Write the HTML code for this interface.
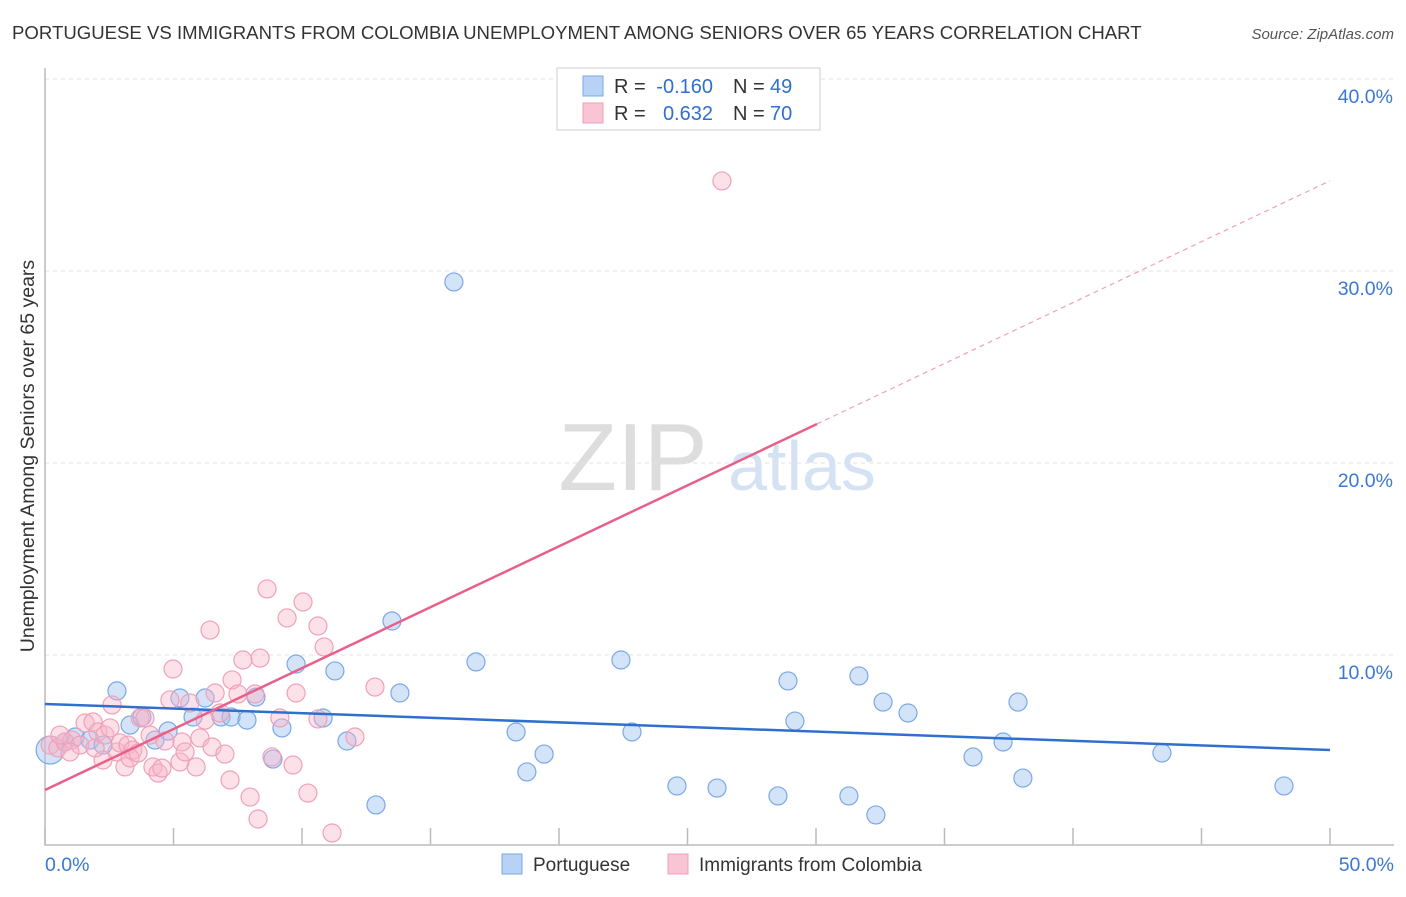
<!DOCTYPE html>
<html><head><meta charset="utf-8"><style>
body{margin:0;background:#fff;font-family:"Liberation Sans",sans-serif}
svg text{font-family:"Liberation Sans",sans-serif}
</style></head><body>
<svg id="c" width="1406" height="892">
<text x="12" y="39" font-size="18.6" fill="#333">PORTUGUESE VS IMMIGRANTS FROM COLOMBIA UNEMPLOYMENT AMONG SENIORS OVER 65 YEARS CORRELATION CHART</text>
<text x="1394" y="39" font-size="15" fill="#555" font-style="italic" text-anchor="end">Source: ZipAtlas.com</text>
<text x="633" y="490" font-size="96" fill="#ddd" font-family="Liberation Serif" text-anchor="middle">ZIP</text>
<text x="802" y="490" font-size="70" fill="#d4e2f4" text-anchor="middle">atlas</text>
<g id="grid"></g><g id="pts"></g><g id="lines"></g>
<text transform="translate(34,456) rotate(-90)" font-size="19.5" fill="#333" text-anchor="middle">Unemployment Among Seniors over 65 years</text>
<g>
<rect x="557" y="68" width="263" height="62" fill="#fff" stroke="#ccc"/>
<rect x="583" y="76" width="20" height="20" fill="#b8d2f5" stroke="#7aa8e8"/>
<rect x="583" y="103" width="20" height="20" fill="#f9c4d3" stroke="#f0a0b8"/>
<text x="614" y="93" font-size="20" fill="#333">R =</text>
<text x="713" y="93" font-size="20" fill="#2f6fd0" text-anchor="end">-0.160</text>
<text x="733" y="93" font-size="20" fill="#333">N =</text>
<text x="770" y="93" font-size="20" fill="#2f6fd0">49</text>
<text x="614" y="120" font-size="20" fill="#333">R =</text>
<text x="713" y="120" font-size="20" fill="#2f6fd0" text-anchor="end">0.632</text>
<text x="733" y="120" font-size="20" fill="#333">N =</text>
<text x="770" y="120" font-size="20" fill="#2f6fd0">70</text>
</g>
<g>
<rect x="502" y="854" width="20" height="20" fill="#b8d2f5" stroke="#7aa8e8"/>
<text x="533" y="871" font-size="19" fill="#333">Portuguese</text>
<rect x="668" y="854" width="20" height="20" fill="#f9c4d3" stroke="#f0a0b8"/>
<text x="699" y="871" font-size="19" fill="#333">Immigrants from Colombia</text>
</g>
</svg>
<script>
const yTicks=[10,20,30,40];
const yTickLabels=["10.0%","20.0%","30.0%","40.0%"];
const xTickLabels=["0.0%","50.0%"];
const blueX=[0.2,0.78,1.17,1.75,2.26,2.8,3.31,3.77,4.28,4.79,5.25,5.76,6.23,6.85,7.24,7.86,8.21,8.87,9.22,9.77,10.82,11.28,11.75,12.88,13.5,13.81,15.91,16.77,18.33,18.75,19.42,22.41,22.84,24.59,26.15,28.52,28.91,29.18,31.28,31.67,32.33,32.61,33.58,36.11,37.28,37.86,38.05,43.46,48.21];
const blueY=[5.05,5.47,5.73,5.57,5.31,8.13,6.35,6.77,5.57,6.04,7.76,6.77,7.76,6.77,6.77,6.61,7.81,4.58,6.2,9.53,6.72,9.17,5.52,2.19,11.77,8.02,29.43,9.64,5.99,3.91,4.84,9.74,5.99,3.18,3.07,2.66,8.65,6.56,2.66,8.91,1.67,7.55,6.98,4.69,5.47,7.55,3.59,4.9,3.18];
const pinkX=[0.2,0.5,0.78,1.05,1.36,1.56,1.87,2.06,2.26,2.61,2.8,2.92,3.11,3.23,3.42,3.7,3.89,4.09,4.2,4.4,4.55,4.67,4.86,4.98,5.25,5.33,5.64,5.88,6.03,6.23,6.42,6.5,6.81,7.0,7.2,7.28,7.51,7.7,7.98,8.17,8.29,8.37,8.64,8.83,9.14,9.42,9.65,9.77,10.04,10.23,10.62,10.62,10.86,11.17,12.06,12.84,26.34,1.95,2.33,3.31,0.58,2.53,3.62,5.45,6.62,0.97];
const pinkY=[5.31,5.16,5.47,5.57,5.31,6.46,6.51,5.99,4.53,7.4,4.95,5.42,4.17,5.31,5.05,6.72,6.72,5.83,4.17,3.85,4.11,5.52,7.66,9.27,4.43,5.47,7.5,4.17,5.68,6.61,11.3,5.21,6.98,4.84,3.49,8.7,7.97,9.74,2.6,7.97,1.46,9.84,13.44,4.69,6.72,11.93,4.27,8.02,12.76,2.81,11.51,6.67,10.42,0.73,5.73,8.33,34.69,5.16,5.83,4.64,5.83,6.2,4.9,4.95,8.02,4.95];
const blueFit=[7.45,5.05];
const pinkFit=[2.97,34.7];
const pinkSolidEnd=30.04;
const NS="http://www.w3.org/2000/svg";
const xs=v=>45+v/50*1285, ys=v=>847-v*19.2;
function mk(tag,attrs,parent){const e=document.createElementNS(NS,tag);for(const k in attrs)e.setAttribute(k,attrs[k]);document.getElementById(parent).appendChild(e);return e;}
yTicks.forEach((t,i)=>{
 const l=mk('line',{x1:45,x2:1394,y1:ys(t),y2:ys(t),stroke:'#e2e2e2','stroke-dasharray':'4,4'},'grid');
 
 
 const tx=mk('text',{x:1393,y:ys(t)+24,'font-size':19.5,fill:'#3a78d4','text-anchor':'end'},'grid');
 tx.textContent=yTickLabels[i];
 
 
});
const ax=mk('path',{d:'M45 68V845H1394',fill:'none',stroke:'#bbb','stroke-width':1.5},'grid');


for(let i=0;i<=10;i++){
 const t=mk('line',{x1:xs(i*5),x2:xs(i*5),y1:828,y2:845,stroke:'#bbb','stroke-width':1.5},'grid');
 
 
}
[[0,'start',45],[50,'end',1394]].forEach((a,i)=>{
 const tx=mk('text',{x:a[2],y:871,'font-size':19.5,fill:'#3a78d4','text-anchor':a[1]},'grid');
 tx.textContent=xTickLabels[i];
 
 
});
blueX.forEach((x,i)=>{
 const c=mk('circle',{cx:xs(x),cy:ys(blueY[i]),r:i==0?14:9,fill:'rgba(160,195,240,0.45)',stroke:'#7aa8e8','stroke-width':1.2},'pts');
 
 
});
pinkX.forEach((x,i)=>{
 const c=mk('circle',{cx:xs(x),cy:ys(pinkY[i]),r:9,fill:'rgba(248,180,200,0.4)',stroke:'#f0a0b8','stroke-width':1.2},'pts');
 
 
});
const bl=mk('line',{x1:xs(0),y1:ys(blueFit[0]),x2:xs(50),y2:ys(blueFit[1]),stroke:'#2f6fd0','stroke-width':2.5},'lines');


const pm=v=>pinkFit[0]+(pinkFit[1]-pinkFit[0])*v/50;
const pl=mk('line',{x1:xs(0),y1:ys(pm(0)),x2:xs(pinkSolidEnd),y2:ys(pm(pinkSolidEnd)),stroke:'#e8608a','stroke-width':2.5},'lines');


const pd=mk('line',{x1:xs(pinkSolidEnd),y1:ys(pm(pinkSolidEnd)),x2:xs(50),y2:ys(pm(50)),stroke:'#f0a0b8','stroke-width':1.2,'stroke-dasharray':'5,4'},'lines');


</script>
</body></html>
